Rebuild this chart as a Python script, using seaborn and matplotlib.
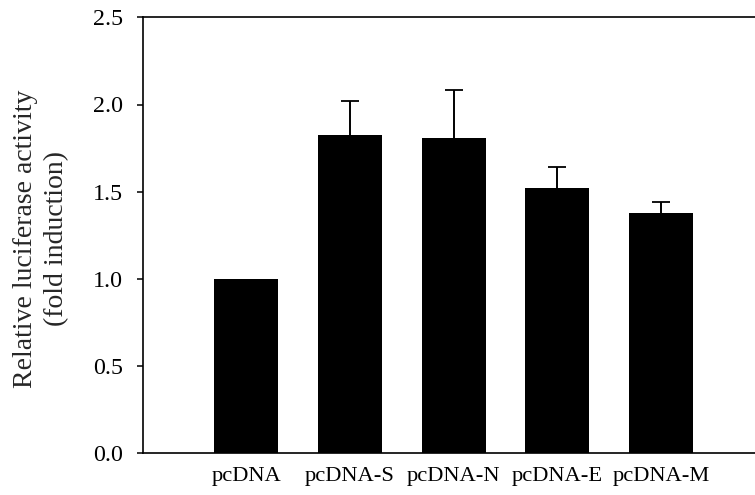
import matplotlib
matplotlib.use("Agg")
import matplotlib.pyplot as plt
import seaborn as sns
import numpy as np
import pandas as pd

categories = ["pcDNA", "pcDNA-S", "pcDNA-N", "pcDNA-E", "pcDNA-M"]
values = [1.0, 1.823, 1.808, 1.524, 1.376]
errors = [0.0, 0.199, 0.277, 0.119, 0.065]
yticks = [0.0, 0.5, 1.0, 1.5, 2.0, 2.5]

sns.set_theme(style="ticks")
plt.rcParams["font.family"] = ["Liberation Serif", "DejaVu Serif"]

fig = plt.figure(figsize=(7.55, 4.95), dpi=100)
ax = fig.add_axes([142.7 / 755, (495 - 453.3) / 495, 1 - 142.7 / 755, (453.3 - 17.3) / 495])

df = pd.DataFrame({"construct": categories, "value": values, "err": errors})
sns.barplot(data=df, x="construct", y="value", color="black", saturation=1,
            width=0.617, errorbar=None, linewidth=0, ax=ax)

xs = np.arange(len(categories))
mask = np.array(errors) > 0
eb = ax.errorbar(xs[mask], np.array(values)[mask],
                 yerr=[np.zeros(mask.sum()), np.array(errors)[mask]],
                 fmt="none", ecolor="black", elinewidth=1.4, capsize=6.2, capthick=1.3)
eb[1][0].set_visible(False)

ax.set_xlim(-1, 4.906)
ax.set_ylim(0, 2.5)
ax.set_yticks(yticks)
ax.set_yticklabels([f"{t:.1f}" for t in yticks])
ax.set_xlabel("")
ax.set_ylabel("Relative luciferase activity\n(fold induction)", fontsize=20, labelpad=17,
              linespacing=1.3)
ax.yaxis.label.set_y(0.493)

ax.tick_params(axis="y", direction="out", length=4.4, width=1.1, color="black",
               labelsize=17.3, pad=10, labelcolor="black")
ax.tick_params(axis="x", length=0, labelsize=16.2, pad=10, labelcolor="black")

for s in ["left", "top", "bottom"]:
    ax.spines[s].set_visible(True)
    ax.spines[s].set_color("black")
    ax.spines[s].set_linewidth(1.2)
ax.spines["right"].set_visible(False)

fig.savefig("out.png", dpi=100)
